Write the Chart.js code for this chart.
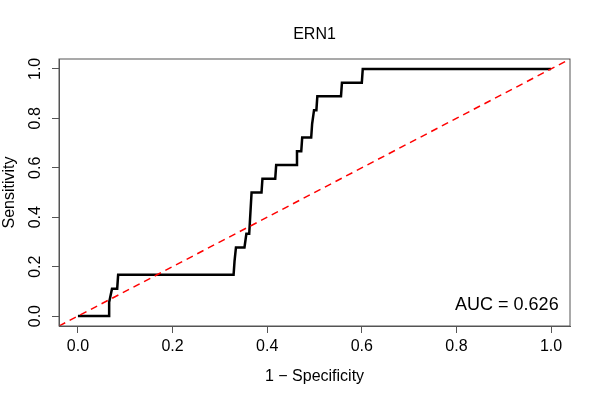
<!DOCTYPE html>
<html>
<head>
<meta charset="utf-8">
<script src="https://cdn.jsdelivr.net/npm/chart.js@4"></script>
<style>
html, body { margin: 0; padding: 0; background: #fff; }
#wrap { width: 600px; height: 400px; }
</style>
</head>
<body>
<div id="wrap"><canvas id="roc"></canvas></div>
<script>
// ROC curve points (1 - specificity, sensitivity)
const fpr = [0, 0.066, 0.066, 0.072, 0.083, 0.085, 0.329, 0.331, 0.334, 0.352, 0.356, 0.362, 0.367,
  0.388, 0.390, 0.417, 0.419, 0.461, 0.463, 0.472, 0.474, 0.493, 0.495, 0.499, 0.504, 0.506,
  0.556, 0.558, 0.600, 0.602, 1.0];
const tpr = [0, 0, 0.056, 0.111, 0.111, 0.167, 0.167, 0.222, 0.278, 0.278, 0.333, 0.333, 0.5,
  0.5, 0.556, 0.556, 0.611, 0.611, 0.667, 0.667, 0.722, 0.722, 0.778, 0.833, 0.833, 0.889,
  0.889, 0.944, 0.944, 1, 1];
const chanceLine = [-0.04, 1.04];
const tickValues = [0, 0.2, 0.4, 0.6, 0.8, 1.0];
const titleText = 'ERN1';
const aucLabel = 'AUC = 0.626';

const FONT = '"Liberation Sans", Arial, Helvetica, sans-serif';
Chart.defaults.font.family = FONT;
Chart.defaults.color = '#000';

// R style box, title over the plot region, vertical y tick labels and the AUC text
const rBox = {
  id: 'rBox',
  afterDraw(chart) {
    const {ctx, chartArea: a, scales: {x, y}} = chart;
    ctx.save();
    ctx.strokeStyle = '#555';
    ctx.lineWidth = 1;
    ctx.strokeRect(a.left, a.top, a.right - a.left, a.bottom - a.top);

    ctx.fillStyle = '#000';
    ctx.textAlign = 'center';
    ctx.textBaseline = 'middle';
    ctx.font = '16px ' + FONT;
    ctx.fillText(titleText, (a.left + a.right) / 2, 35);

    tickValues.forEach(v => {
      ctx.save();
      ctx.translate(36, y.getPixelForValue(v));
      ctx.rotate(-Math.PI / 2);
      ctx.fillText(v.toFixed(1), 0, 0);
      ctx.restore();
    });

    ctx.font = '18px ' + FONT;
    ctx.textAlign = 'right';
    ctx.fillText(aucLabel, x.getPixelForValue(1.016), y.getPixelForValue(0.045));
    ctx.restore();
  }
};

const setTicks = scale => { scale.ticks = tickValues.map(v => ({value: v})); };

new Chart(document.getElementById('roc'), {
  type: 'scatter',
  data: {
    datasets: [{
      data: chanceLine.map(v => ({x: v, y: v})),
      showLine: true,
      borderColor: '#ff0000',
      borderWidth: 1.5,
      borderDash: [7, 5],
      pointRadius: 0
    }, {
      data: fpr.map((v, i) => ({x: v, y: tpr[i]})),
      showLine: true,
      borderColor: '#000',
      borderWidth: 2.5,
      pointRadius: 0,
      tension: 0
    }]
  },
  options: {
    responsive: true,
    maintainAspectRatio: false,
    animation: false,
    layout: { padding: { left: 0, right: 30, top: 59, bottom: 0 } },
    plugins: {
      legend: { display: false },
      tooltip: { enabled: false },
      title: { display: false }
    },
    scales: {
      x: {
        type: 'linear',
        min: -0.04,
        max: 1.04,
        afterBuildTicks: setTicks,
        afterFit: s => { s.height = 74; },
        grid: { drawOnChartArea: false, drawTicks: true, tickLength: 7, color: '#555' },
        border: { display: true, color: '#555' },
        ticks: { font: { size: 16 }, padding: 4, callback: v => v.toFixed(1) },
        title: { display: true, text: '1 − Specificity', font: { size: 16 }, padding: { top: 0, bottom: 13.7 } }
      },
      y: {
        type: 'linear',
        min: -0.04,
        max: 1.04,
        afterBuildTicks: setTicks,
        afterFit: s => { s.width = 59; },
        grid: { drawOnChartArea: false, drawTicks: true, tickLength: 7, color: '#555' },
        border: { display: true, color: '#555' },
        ticks: { display: false },
        title: { display: true, text: 'Sensitivity', font: { size: 16 }, padding: { top: 0, bottom: 0 } }
      }
    }
  },
  plugins: [rBox]
});
</script>
</body>
</html>
